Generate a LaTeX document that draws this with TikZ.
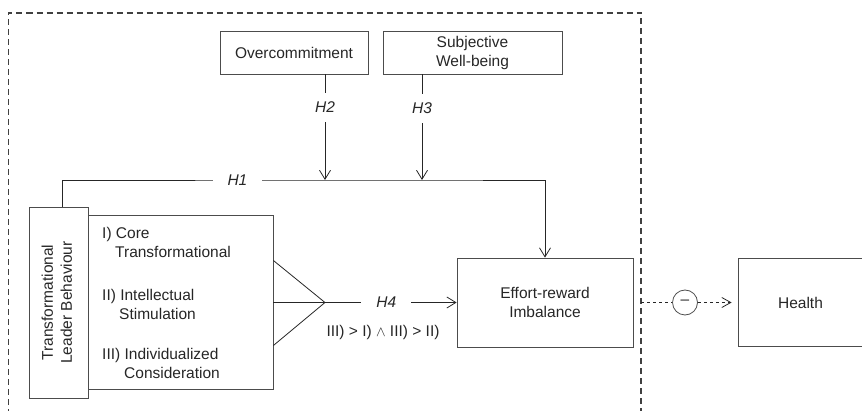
\documentclass[tikz,border=0pt]{standalone}
\usepackage{fontspec}
\setmainfont{Liberation Sans}
\usetikzlibrary{arrows.meta}

\begin{document}
\begin{tikzpicture}[x=1pt, y=-1pt, line cap=butt,
  font=\fontsize{15.5}{19}\selectfont,
  box/.style={draw=black!70, line width=0.8pt, inner sep=0pt, align=center, text=black!85},
  link/.style={draw=black!85, line width=0.8pt},
  arr/.style={link, -{Straight Barb[length=9pt,width=11pt]}},
  lbl/.style={fill=white, inner xsep=15pt, inner ysep=9pt, text=black!85,
    font=\fontsize{15.5}{19}\selectfont\itshape},
  item/.style={anchor=north west, inner sep=0pt, align=left, text=black!85},
  frame/.style={draw=black!75, line width=1.1pt, dash pattern=on 6pt off 4pt},
  dasharr/.style={link, dash pattern=on 3pt off 3pt}]
\useasboundingbox (0,0) rectangle (862,411);
% Dashed frame (open at the bottom)
\draw[frame] (8.5,415) |- (641,13) -- (641,415);
% Boxes
\node[box, minimum width=59pt, minimum height=191pt] (tlb) at (58.5,302.5)
  {\rotatebox{90}{\begin{tabular}{@{}c@{}}Transformational\\Leader Behaviour\end{tabular}}};
\node[box, minimum width=185pt, minimum height=174pt] (dims) at (180.5,302.5) {};
\node[box, minimum width=148pt, minimum height=43pt] (over) at (294,52.5) {Overcommitment};
\node[box, minimum width=179pt, minimum height=43pt] (wellb) at (472.5,52.5) {Subjective\\Well-being};
\node[box, minimum width=176pt, minimum height=89pt] (eri) at (545,302.5) {Effort-reward\\Imbalance};
\node[box, minimum width=125pt, minimum height=88pt] (health) at (800.5,302.5) {Health};
\node[box, circle, minimum size=25pt] (sign) at (685,302.5) {--};
% Dimensions
\node[item] (core) at (102,227.5) {I) Core\\\hspace*{13pt}Transformational};
\node[item] (intel) at (102,289.5) {II) Intellectual\\\hspace*{17pt}Stimulation};
\node[item] (indiv) at (102,348.5) {III) Individualized\\\hspace*{22pt}Consideration};
% Coordinates
\coordinate (h1start) at (62,180);
\coordinate (j2) at (325,180);
\coordinate (j3) at (422,180);
\coordinate (apex) at (325,302.5);
\coordinate (exit) at (641,302.5);
% H1
\draw[arr] (tlb.north -| h1start) -- (h1start) -- node[lbl, pos=0.667] {H1} (j2)
  -- (j3) -- (eri.north |- j3) -- (eri.north);
% H2 and H3 (moderators)
\draw[arr] (over.south -| j2) -- node[lbl, pos=0.31] {H2} (j2);
\draw[arr] (wellb.south -| j3) -- node[lbl, pos=0.32] {H3} (j3);
% H4
\draw[link] ([yshift=42pt]dims.east) -- (apex) -- ([yshift=-43pt]dims.east);
\draw[arr] (dims.east) -- (apex) -- node[lbl, pos=0.466] {H4} (eri.west);
\node[text=black!85] (order) at (383,332) {III) > I) $\wedge$ III) > II)};
% Health
\draw[dasharr] (exit) -- (sign);
\draw[dasharr, -{Straight Barb[length=9pt,width=10pt]}, shorten >=6pt] (sign) -- (health.west);
\end{tikzpicture}
\end{document}
